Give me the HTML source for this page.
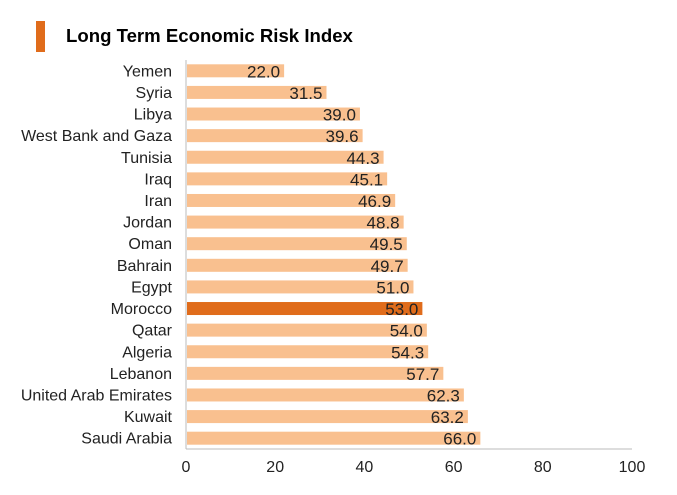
<!DOCTYPE html>
<html><head><meta charset="utf-8"><style>
body{margin:0;background:#fff;font-family:"Liberation Sans",Arial,sans-serif}
svg text{font-family:"Liberation Sans",Arial,sans-serif}
</style></head><body>
<svg width="677" height="490">
<rect x="36" y="21" width="9" height="31" fill="#e06c1b"/>
<text x="66" y="42" font-size="18.6" font-weight="bold" fill="#000">Long Term Economic Risk Index</text>
<g id="plot"></g>
</svg>
<script>
const categories=["Yemen","Syria","Libya","West Bank and Gaza","Tunisia","Iraq","Iran","Jordan","Oman","Bahrain","Egypt","Morocco","Qatar","Algeria","Lebanon","United Arab Emirates","Kuwait","Saudi Arabia"];
const values=[22.0,31.5,39.0,39.6,44.3,45.1,46.9,48.8,49.5,49.7,51.0,53.0,54.0,54.3,57.7,62.3,63.2,66.0];
const highlight="Morocco";
const ticks=[0,20,40,60,80,100];
const NS="http://www.w3.org/2000/svg";
const g=document.getElementById('plot');
const x0=186,x1=632,yTop=60,yBot=449;
const xs=v=>x0+(v/100)*(x1-x0);
const step=(yBot-yTop)/categories.length;
const yc=i=>yTop+step*(i+0.5);
function mk(t,a){const e=document.createElementNS(NS,t);for(const k in a)e.setAttribute(k,a[k]);g.appendChild(e);return e;}
categories.forEach((c,i)=>{
 const r=mk('rect',{x:x0+1,y:yc(i)-6.5,width:xs(values[i])-x0-1,height:13,fill:c===highlight?'#e06c1b':'#f9c08f'});
 
 
 const l=mk('text',{x:172,y:yc(i)+5.5,'font-size':16,'text-anchor':'end',fill:'#222'});
 l.textContent=c;
 
 
 const v=mk('text',{x:xs(values[i])-4,y:yc(i)+6.5,'font-size':17,'text-anchor':'end',fill:'#222'});
 v.textContent=values[i].toFixed(1);
 
 
});
const ax=mk('line',{x1:x0,y1:yTop,x2:x0,y2:yBot,stroke:'#bbb','stroke-width':1});


const bx=mk('line',{x1:x0,y1:yBot,x2:x1,y2:yBot,stroke:'#bbb','stroke-width':1});


ticks.forEach(t=>{
 const e=mk('text',{x:xs(t),y:472,'font-size':16,'text-anchor':'middle',fill:'#222'});
 e.textContent=t;
 
 
});
</script>
</body></html>
